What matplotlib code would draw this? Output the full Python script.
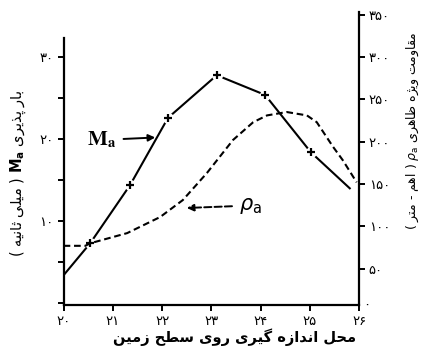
import matplotlib
matplotlib.use('Agg')
import matplotlib.pyplot as plt
from matplotlib.ticker import FixedLocator, FuncFormatter

plt.rcParams['font.family'] = ['DejaVu Sans']

# M_a curve (left axis, ms)
ma_x = [20.0, 20.54, 21.35, 22.12, 23.11, 24.09, 25.02, 25.81]
ma_y = [3.4, 7.3, 14.4, 22.6, 27.8, 25.4, 18.4, 14.0]
# rho_a curve (right axis, ohm-m)
rho_x = [20.0, 20.44, 20.54, 21.29, 21.96, 22.42, 22.91, 23.44, 23.85, 24.13,
         24.53, 24.94, 25.14, 25.47, 25.67, 25.95]
rho_y = [77, 77, 80, 92, 111, 131, 163, 202, 223, 231, 235, 231, 223, 194, 178, 152]

x_ticks = [20, 21, 22, 23, 24, 25, 26]
left_major = [10, 20, 30]
left_minor = [0, 5, 15, 25]
right_ticks = [50, 100, 150, 200, 250, 300, 350]

xlabel_txt = 'محل اندازه گیری روی سطح زمین'
ylabel_l = ('بار پذیری', '( میلی ثانیه )')
ylabel_r = ('مقاومت ویژه ظاهری', '( اهم - متر )')

# minimal persian shaping: (isolated, final, initial, medial)
FORMS = {
    'ا': ('\uFE8D', '\uFE8E', None, None), 'ب': ('\uFE8F', '\uFE90', '\uFE91', '\uFE92'),
    'پ': ('\uFB56', '\uFB57', '\uFB58', '\uFB59'), 'ت': ('\uFE95', '\uFE96', '\uFE97', '\uFE98'),
    'ث': ('\uFE99', '\uFE9A', '\uFE9B', '\uFE9C'), 'ح': ('\uFEA1', '\uFEA2', '\uFEA3', '\uFEA4'),
    'د': ('\uFEA9', '\uFEAA', None, None), 'ذ': ('\uFEAB', '\uFEAC', None, None),
    'ر': ('\uFEAD', '\uFEAE', None, None), 'ز': ('\uFEAF', '\uFEB0', None, None),
    'ژ': ('\uFB8A', '\uFB8B', None, None), 'س': ('\uFEB1', '\uFEB2', '\uFEB3', '\uFEB4'),
    'ط': ('\uFEC1', '\uFEC2', '\uFEC3', '\uFEC4'), 'ظ': ('\uFEC5', '\uFEC6', '\uFEC7', '\uFEC8'),
    'ق': ('\uFED5', '\uFED6', '\uFED7', '\uFED8'), 'گ': ('\uFB92', '\uFB93', '\uFB94', '\uFB95'),
    'ل': ('\uFEDD', '\uFEDE', '\uFEDF', '\uFEE0'), 'م': ('\uFEE1', '\uFEE2', '\uFEE3', '\uFEE4'),
    'ن': ('\uFEE5', '\uFEE6', '\uFEE7', '\uFEE8'), 'ه': ('\uFEE9', '\uFEEA', '\uFEEB', '\uFEEC'),
    'و': ('\uFEED', '\uFEEE', None, None), 'ی': ('\uFBFC', '\uFBFD', '\uFBFE', '\uFBFF'),
}


def fa(s):
    out = []
    for i, c in enumerate(s):
        if c not in FORMS:
            out.append(c)
            continue
        prev = s[i - 1] if i > 0 else ''
        nxt = s[i + 1] if i + 1 < len(s) else ''
        jp = prev in FORMS and FORMS[prev][2] is not None
        jn = nxt in FORMS and FORMS[c][2] is not None
        iso, fin, ini, med = FORMS[c]
        out.append(med if (jp and jn) else fin if jp else ini if jn else iso)
    vis = ''.join(reversed(out))
    return vis.translate(str.maketrans('()', ')('))


def fa_num(v, pos=None):
    return str(int(round(v))).translate(str.maketrans('0123456789', '۰۱۲۳۴۵۶۷۸۹'))


fig = plt.figure(figsize=(4.27, 3.56), dpi=100)
ax = fig.add_axes([0.149, 0.143, 0.692, 0.823])
ax2 = ax.twinx()

# M_a solid line with gaps round the + marks
ax.plot(ma_x, ma_y, color='black', lw=1.5, zorder=2)
ax.plot(ma_x[1:7], ma_y[1:7], 'o', color='white', ms=7, zorder=3)
ax.plot(ma_x[1:7], ma_y[1:7], '+', color='black', ms=6, mew=1.6, zorder=4)

ax2.plot(rho_x, rho_y, color='black', lw=1.5, dashes=(3.2, 1.8), zorder=5)

ax.set_xlim(20, 26)
ax.set_ylim(-0.25, 35.5)
ax2.set_ylim(7, 353)

ax.xaxis.set_major_locator(FixedLocator(x_ticks))
ax.xaxis.set_major_formatter(FuncFormatter(fa_num))
ax.yaxis.set_major_locator(FixedLocator(left_major))
ax.yaxis.set_minor_locator(FixedLocator(left_minor))
ax.yaxis.set_major_formatter(FuncFormatter(fa_num))
ax2.yaxis.set_major_locator(FixedLocator(right_ticks))
ax2.yaxis.set_major_formatter(FuncFormatter(fa_num))

for a in (ax, ax2):
    a.spines['top'].set_visible(False)
    for sp in a.spines.values():
        sp.set_linewidth(1.6)
    a.tick_params(which='both', direction='out', length=4, width=1.4, labelsize=9.5, pad=3)
ax.spines['right'].set_visible(False)
ax.spines['left'].set_bounds(-0.25, 32.3)
ax2.spines['left'].set_visible(False)
ax2.spines['bottom'].set_visible(False)
ax2.text(1.015, 0.0, '۰', transform=ax2.transAxes, fontsize=9.5, va='center', ha='left')

ax.set_xlabel(fa(xlabel_txt), fontsize=10.5, fontweight='bold', ha='right')
ax.xaxis.set_label_coords(0.99, -0.08)

ax.set_ylabel(fa(ylabel_l[1]) + r' $\mathbf{M_a}$ ' + fa(ylabel_l[0]), fontsize=10.5,
              math_fontfamily='dejavusans')
ax.yaxis.set_label_coords(-0.12, 0.45)
ax2.set_ylabel(fa(ylabel_r[1]) + r' $\rho_{\rm a}$ ' + fa(ylabel_r[0]), fontsize=9,
               rotation=90, math_fontfamily='dejavusans')
ax2.yaxis.set_label_coords(1.153, 0.595)

ax.annotate(r'$\mathbf{M}_{\mathbf{a}}$', xy=(21.86, 20.2), xytext=(20.78, 19.9),
            fontsize=15, math_fontfamily='stix', ha='center', va='center',
            arrowprops=dict(arrowstyle='-|>', color='black', lw=1.4, mutation_scale=10,
                            shrinkA=3, shrinkB=0))
ax.annotate(r'$\rho_{\rm a}$', xy=(22.5, 11.6), xytext=(23.56, 11.9),
            fontsize=15, math_fontfamily='dejavusans', ha='left', va='center',
            arrowprops=dict(arrowstyle='-|>', color='black', lw=1.4, ls='--',
                            mutation_scale=10, shrinkA=3, shrinkB=0))

fig.savefig('out.png', dpi=100)
